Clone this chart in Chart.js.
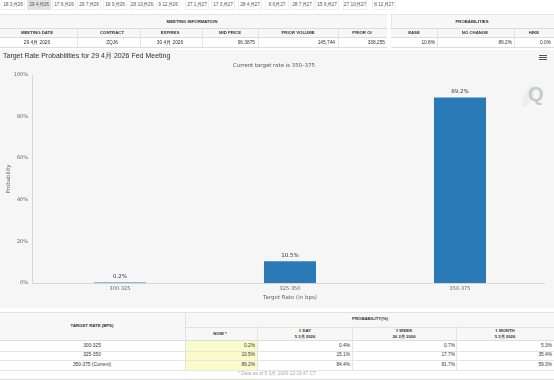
<!DOCTYPE html>
<html>
<head>
<meta charset="utf-8">
<script src="https://cdn.jsdelivr.net/npm/chart.js@4"></script>
<style>
html, body { margin: 0; padding: 0; background: #fff; overflow: hidden; }
body { width: 554px; height: 380px; position: relative; font-family: "Liberation Sans", Arial, sans-serif; color: #333; }
.t { position: absolute; font-size: 4.8px; line-height: 1; white-space: nowrap; }
.c { transform: translateX(-50%); }
.r { transform: translateX(-100%); }
.b { font-weight: bold; font-size: 4.3px; }
.box { position: absolute; box-sizing: border-box; }
#panel { position: absolute; left: 0; top: 50px; width: 554px; height: 258px; background: #f6f6f6; }
#wrap { position: absolute; left: 0; top: 50px; width: 554px; height: 258px; }
#swoosh { position: absolute; left: 524px; top: 84px; width: 9px; height: 24px; border-radius: 50%; background: #e8f1ed; transform: rotate(25deg); }
#q { position: absolute; left: 528px; top: 83px; font: bold 20px "Liberation Sans", sans-serif; color: #c6caca; }
.bar { position: absolute; left: 539px; width: 8px; height: 1px; background: #555; }
</style>
</head>
<body>
<div id="panel"></div>
<div id="swoosh"></div>
<div id="q">Q</div>
<div id="wrap"><canvas id="chart" width="554" height="258"></canvas></div>
<div class="bar" style="top:55px"></div>
<div class="bar" style="top:57px"></div>
<div class="bar" style="top:59px"></div>
<script>
var categories = ["300-325", "325-350", "350-375"];
var probabilities = [0.2, 10.5, 89.2];
var yTicks = [0, 20, 40, 60, 80, 100];

var tabLabels = ["18 3月26","29 4月26","17 6月26","29 7月26","16 9月26","28 10月26","9 12月26","27 1月27","17 3月27","28 4月27","9 6月27","28 7月27","15 9月27","27 10月27","8 12月27"];
var tabCenters = [13,39,64,89,115,142,168,197,223,250,277,302,327,355,384];

var infoHeaders = ["MEETING DATE","CONTRACT","EXPIRES","MID PRICE","PRIOR VOLUME","PRIOR OI"];
var infoValues = ["29 4月 2026","ZQJ6","30 4月 2026","96.3875","145,744","338,255"];
var probHeaders = ["EASE","NO CHANGE","HIKE"];
var probValues = ["10.8%","89.2%","0.0%"];

var rowLabels = ["300-325","325-350","350-375 (Current)"];
var nowCol = ["0.2%","10.5%","89.2%"];
var dayCol = ["0.4%","15.1%","84.4%"];
var weekCol = ["0.7%","17.7%","81.7%"];
var monthCol = ["5.3%","35.4%","59.3%"];

function text(s, x, y, cls, style) {
  var d = document.createElement("div");
  d.className = "t " + (cls || "");
  d.textContent = s;
  d.style.left = x + "px";
  d.style.top = y + "px";
  if (style) d.style.cssText += style;
  document.body.appendChild(d);
}
function box(x, y, w, h, style) {
  var d = document.createElement("div");
  d.className = "box";
  d.style.cssText = "left:" + x + "px;top:" + y + "px;width:" + w + "px;height:" + h + "px;" + style;
  document.body.appendChild(d);
}

// date tabs
tabCenters.forEach(function (x, i) {
  var w = tabLabels[i].length > 8 ? 27 : 24;
  box(x - w / 2, 0, w, 10, i == 1 ? "background:#e2e2e2" : "border:1px solid #f0f0f0;border-top:0");
});
tabLabels.forEach(function (s, i) { text(s, tabCenters[i], 3, "c", "color:#555"); });

// top tables
box(0, 14, 387, 14, "background:#f7f7f7;border-top:1px solid #e6e6e6");
box(391, 14, 163, 14, "background:#f7f7f7;border-top:1px solid #e6e6e6;border-left:1px solid #e6e6e6");
box(0, 28, 387, 10, "background:#f7f7f7;border-top:1px solid #ddd;border-bottom:1px solid #ddd");
box(391, 28, 163, 10, "background:#f7f7f7;border-top:1px solid #ddd;border-bottom:1px solid #ddd");
box(0, 47, 387, 1, "background:#ddd");
box(391, 47, 163, 1, "background:#ddd");
[77, 140, 202, 258, 338, 437, 514].forEach(function (x) { box(x, 28, 1, 20, "background:#e4e4e4"); });
text("MEETING INFORMATION", 192, 20, "c b");
text("PROBABILITIES", 472, 20, "c b");
var infoCenters = [37, 112, 170, 230, 298, 362];
infoHeaders.forEach(function (s, i) { text(s, infoCenters[i], 31, "c b"); });
var probCenters = [414, 475, 534];
probHeaders.forEach(function (s, i) { text(s, probCenters[i], 31, "c b"); });
text(infoValues[0], 37, 41, "c");
text(infoValues[1], 112, 41, "c");
text(infoValues[2], 170, 41, "c");
text(infoValues[3], 255, 41, "r");
text(infoValues[4], 335, 41, "r");
text(infoValues[5], 385, 41, "r");
text(probValues[0], 435, 41, "r");
text(probValues[1], 512, 41, "r");
text(probValues[2], 551, 41, "r");

// bottom table
box(0, 312, 554, 29, "background:#f7f7f7;border-top:1px solid #e2e2e2;border-bottom:1px solid #ddd");
box(185, 312, 1, 58, "background:#e2e2e2");
box(185, 327, 369, 1, "background:#e2e2e2");
[257, 352, 456].forEach(function (x) { box(x, 327, 1, 43, "background:#e6e6e6"); });
box(186, 341, 71, 29, "background:#fbfbc9");
[351, 360, 370].forEach(function (y) { box(0, y, 554, 1, "background:#e6e6e6"); });
box(0, 379, 554, 1, "background:#ddd");
text("TARGET RATE (BPS)", 92, 324, "c b");
text("PROBABILITY(%)", 370, 317, "c b");
text("NOW *", 220, 332, "c b");
text("1 DAY", 305, 329, "c b");
text("5 3月 2026", 305, 335, "c b");
text("1 WEEK", 404, 329, "c b");
text("26 2月 2026", 404, 335, "c b");
text("1 MONTH", 505, 329, "c b");
text("5 2月 2026", 505, 335, "c b");
rowLabels.forEach(function (s, i) {
  var y = 343.5 + i * 9.7;
  text(s, 92, y, "c");
  text(nowCol[i], 255, y, "r");
  text(dayCol[i], 350, y, "r");
  text(weekCol[i], 455, y, "r");
  text(monthCol[i], 552, y, "r");
});
text("* Data as of 5 3月 2026 12:19:47 CT", 277, 372, "c", "color:#aaa");

// value labels and the axis lines that start left of the plot
var barLabels = {
  id: "barLabels",
  afterDatasetsDraw: function (chart) {
    var ctx = chart.ctx;
    var meta = chart.getDatasetMeta(0);
    ctx.save();
    ctx.font = "5.5px 'DejaVu Sans'";
    ctx.fillStyle = "#333";
    ctx.textAlign = "center";
    ctx.textBaseline = "bottom";
    meta.data.forEach(function (bar, i) {
      ctx.fillText(probabilities[i].toFixed(1) + "%", bar.x, bar.y - 3);
    });
    var y0 = chart.scales.y.getPixelForValue(0);
    var x0 = chart.chartArea.left - 3;
    ctx.strokeStyle = "#d6d6d6";
    ctx.beginPath();
    ctx.moveTo(x0 + 0.5, chart.chartArea.top);
    ctx.lineTo(x0 + 0.5, y0 + 0.5);
    ctx.lineTo(chart.chartArea.right, y0 + 0.5);
    ctx.stroke();
    ctx.restore();
  }
};

new Chart(document.getElementById("chart"), {
  type: "bar",
  data: {
    labels: categories,
    datasets: [{
      data: probabilities,
      backgroundColor: "#2a7ab8",
      barPercentage: 0.306,
      categoryPercentage: 1
    }]
  },
  plugins: [barLabels],
  options: {
    responsive: false,
    animation: false,
    layout: { padding: { left: 3, right: 9, top: 0, bottom: 7 } },
    plugins: {
      legend: { display: false },
      tooltip: { enabled: false },
      title: {
        display: true,
        text: "Target Rate Probabilities for 29 4月 2026 Fed Meeting",
        align: "start",
        color: "#333",
        font: { family: "'Liberation Sans'", size: 7, weight: "normal" },
        padding: { top: 2, bottom: 0 }
      },
      subtitle: {
        display: true,
        text: "Current target rate is 350–375",
        color: "#555",
        font: { family: "'DejaVu Sans'", size: 5.4 },
        padding: { top: 2, bottom: 6.1 }
      }
    },
    scales: {
      x: {
        grid: { display: false, drawTicks: false },
        border: { display: false },
        ticks: { color: "#666", font: { family: "'DejaVu Sans'", size: 5 }, padding: 3, maxRotation: 0 },
        title: { display: true, text: "Target Rate (in bps)", color: "#666", font: { family: "'DejaVu Sans'", size: 5.5 }, padding: { top: 2, bottom: 0 } },
        afterFit: function (s) { s.height = 18; }
      },
      y: {
        min: 0,
        max: 100,
        grid: { display: false, drawTicks: false },
        border: { display: false },
        afterBuildTicks: function (s) { s.ticks = yTicks.map(function (v) { return { value: v }; }); },
        ticks: { color: "#666", font: { family: "'DejaVu Sans'", size: 5 }, padding: 7, callback: function (v) { return v + "%"; } },
        title: { display: true, text: "Probability", color: "#666", font: { family: "'DejaVu Sans'", size: 5.5 }, padding: { top: 2, bottom: 0 } },
        afterFit: function (s) { s.width = 32; }
      }
    }
  }
});
</script>
</body>
</html>
